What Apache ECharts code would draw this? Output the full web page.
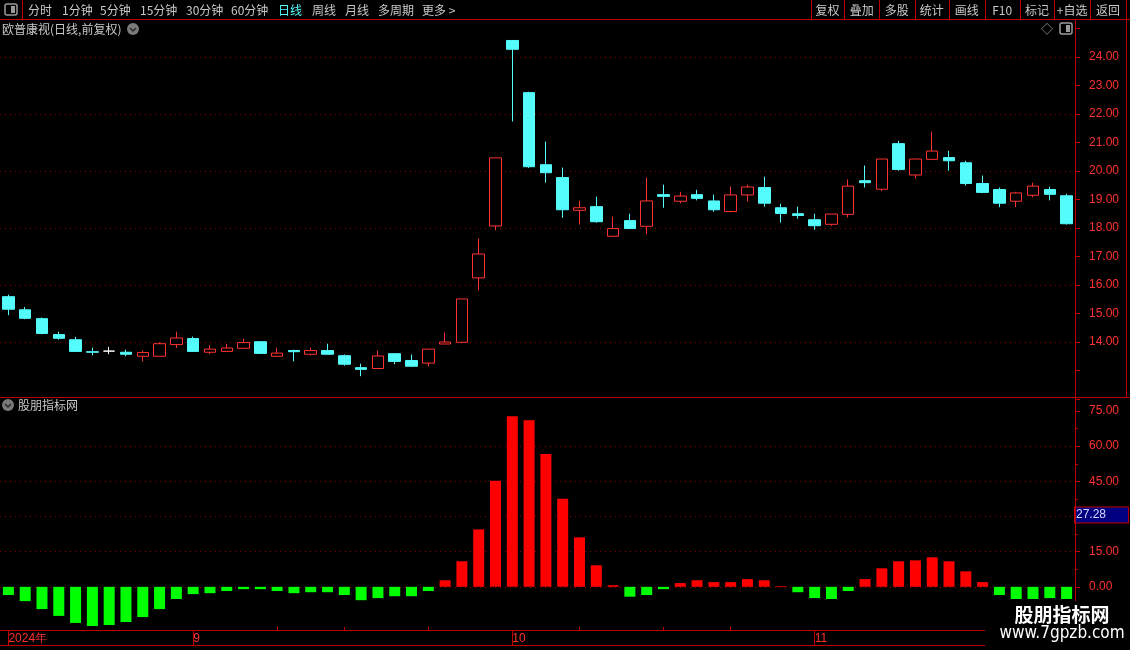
<!DOCTYPE html>
<html>
<head>
<meta charset="utf-8">
<title>欧普康视</title>
<script src="https://cdn.jsdelivr.net/npm/echarts@6/dist/echarts.min.js"></script>
<style>
  html, body { margin: 0; padding: 0; background: #000; }
  #chart { width: 1130px; height: 650px; }
</style>
</head>
<body>
<div id="chart"></div>
<script>
// 交易日 2024-08-16 ~ 2024-11-22
const dates = [
  '2024-08-16', '2024-08-19', '2024-08-20', '2024-08-21', '2024-08-22', '2024-08-23', '2024-08-26', '2024-08-27', '2024-08-28', '2024-08-29',
  '2024-08-30', '2024-09-02', '2024-09-03', '2024-09-04', '2024-09-05', '2024-09-06', '2024-09-09', '2024-09-10', '2024-09-11', '2024-09-12',
  '2024-09-13', '2024-09-18', '2024-09-19', '2024-09-20', '2024-09-23', '2024-09-24', '2024-09-25', '2024-09-26', '2024-09-27', '2024-09-30',
  '2024-10-08', '2024-10-09', '2024-10-10', '2024-10-11', '2024-10-14', '2024-10-15', '2024-10-16', '2024-10-17', '2024-10-18', '2024-10-21',
  '2024-10-22', '2024-10-23', '2024-10-24', '2024-10-25', '2024-10-28', '2024-10-29', '2024-10-30', '2024-10-31', '2024-11-01', '2024-11-04',
  '2024-11-05', '2024-11-06', '2024-11-07', '2024-11-08', '2024-11-11', '2024-11-12', '2024-11-13', '2024-11-14', '2024-11-15', '2024-11-18',
  '2024-11-19', '2024-11-20', '2024-11-21', '2024-11-22'
]
const opens = [
  15.59, 15.13, 14.82, 14.26, 14.08, 13.66, 13.68, 13.64, 13.50, 13.50,
  13.91, 14.12, 13.64, 13.67, 13.78, 14.01, 13.50, 13.70, 13.57, 13.70,
  13.52, 13.10, 13.07, 13.59, 13.35, 13.26, 13.93, 13.99, 16.25, 18.07,
  24.58, 22.75, 20.22, 19.77, 18.62, 18.75, 17.71, 18.26, 18.06, 19.17,
  18.94, 19.17, 18.95, 18.58, 19.16, 19.42, 18.71, 18.50, 18.29, 18.13,
  18.48, 19.66, 19.36, 20.96, 19.86, 20.41, 20.47, 20.29, 19.56, 19.35,
  18.94, 19.15, 19.35, 19.13
]
const closes = [
  15.15, 14.83, 14.30, 14.13, 13.67, 13.64, 13.68, 13.57, 13.63, 13.94,
  14.14, 13.67, 13.75, 13.79, 13.98, 13.60, 13.61, 13.66, 13.70, 13.57,
  13.22, 13.04, 13.51, 13.32, 13.15, 13.75, 14.00, 15.51, 17.09, 20.46,
  24.27, 20.15, 19.94, 18.64, 18.71, 18.22, 17.98, 17.98, 18.95, 19.11,
  19.12, 19.04, 18.64, 19.16, 19.44, 18.87, 18.51, 18.44, 18.08, 18.49,
  19.47, 19.59, 20.42, 20.05, 20.42, 20.70, 20.36, 19.56, 19.25, 18.87,
  19.23, 19.47, 19.18, 18.15
]
const lows = [
  14.94, 14.80, 14.27, 14.08, 13.67, 13.53, 13.57, 13.50, 13.32, 13.50,
  13.79, 13.67, 13.57, 13.67, 13.78, 13.60, 13.50, 13.32, 13.53, 13.56,
  13.17, 12.80, 13.07, 13.22, 13.12, 13.15, 13.93, 13.96, 15.81, 17.92,
  21.74, 20.11, 19.59, 18.36, 18.12, 18.19, 17.71, 17.98, 17.78, 18.71,
  18.87, 18.97, 18.57, 18.55, 18.93, 18.75, 18.19, 18.33, 17.94, 18.08,
  18.37, 19.42, 19.29, 20.01, 19.74, 20.41, 20.01, 19.49, 19.22, 18.73,
  18.73, 19.08, 18.97, 18.12
]
const highs = [
  15.66, 15.23, 14.86, 14.36, 14.18, 13.80, 13.83, 13.73, 13.70, 13.99,
  14.36, 14.19, 13.89, 13.93, 14.11, 14.01, 13.80, 13.73, 13.80, 13.94,
  13.56, 13.24, 13.70, 13.59, 13.56, 13.75, 14.33, 15.51, 17.63, 20.46,
  24.58, 22.78, 21.03, 20.12, 18.96, 19.10, 18.40, 18.50, 19.77, 19.52,
  19.27, 19.34, 19.17, 19.45, 19.52, 19.80, 18.85, 18.75, 18.50, 18.49,
  19.70, 20.19, 20.42, 21.06, 20.42, 21.38, 20.71, 20.36, 19.84, 19.42,
  19.27, 19.59, 19.45, 19.20
]
// 股朋指标网 指标值
const indicator = [
  -3.5, -6.1, -9.5, -12.4, -15.4, -16.7, -16.3, -15.0, -12.9, -9.5,
  -5.2, -3.1, -2.7, -1.8, -1.0, -1.0, -1.8, -2.7, -2.3, -2.3,
  -3.5, -5.7, -4.8, -4.0, -4.0, -1.8, 2.8, 10.9, 24.5, 45.3,
  72.8, 71.1, 56.7, 37.6, 21.1, 9.2, 0.7, -4.2, -3.5, -1.0,
  1.6, 2.8, 2.0, 2.0, 3.3, 2.8, 0.3, -2.3, -4.8, -5.2,
  -1.8, 3.3, 7.9, 10.9, 11.3, 12.6, 10.9, 6.6, 2.0, -3.5,
  -5.2, -5.2, -4.8, -5.2
]
const cursorValue = 27.28
const priceTicks = [14, 15, 16, 17, 18, 19, 20, 21, 22, 23, 24]
const indTicks = [0, 15, 45, 60, 75]
const monthLabelIdx = [0, 11, 30, 48]
const weekTickIdx = [16, 20, 25, 34, 39, 43]

const periods = ['分时', '1分钟', '5分钟', '15分钟', '30分钟', '60分钟', '日线', '周线', '月线', '多周期', '更多 >']
const periodX = [28, 62, 100, 140, 186, 231, 278, 312, 345, 378, 422]
const buttons = ['复权', '叠加', '多股', '统计', '画线', 'F10', '标记', '+自选', '返回']
const buttonSep = [810.8, 844.3, 879.2, 914.5, 949.1, 984.5, 1019.8, 1054.4, 1089.7, 1126.4]

const RED = '#ff3232'
const CYAN = '#54fcfc'
const FRAME = '#c00000'
const DOT = '#900000'
const TXT = '#c8c8c8'
const FONT = '"Noto Sans CJK SC", "Liberation Sans", sans-serif'

const candleData = opens.map((o, i) => [o, closes[i], lows[i], highs[i]])

const chart = echarts.init(document.getElementById('chart'), null, { renderer: 'canvas' })

// 分割线颜色：只在指定刻度显示
function priceLineColors() {
  const res = []
  for (let v = 12; v <= 25; v++) res.push(v >= 14 && v <= 24 && v % 2 === 0 ? DOT : 'transparent')
  return res
}

function hline(x1, x2, y, color) {
  return { type: 'line', silent: true, z: 50, shape: { x1, y1: y, x2, y2: y }, style: { stroke: color || FRAME, lineWidth: 1 } }
}
function vline(x, y1, y2, color) {
  return { type: 'line', silent: true, z: 50, shape: { x1: x, y1, x2: x, y2 }, style: { stroke: color || FRAME, lineWidth: 1 } }
}
function text(str, x, y, color, size, align, weight, family, z) {
  return {
    type: 'text', silent: true, z: z || 60, x, y,
    style: { text: str, fill: color || TXT, font: (weight || 'normal') + ' ' + (size || 12) + 'px ' + (family || FONT), align: align || 'left', verticalAlign: 'middle' }
  }
}
function chevronIcon(cx, cy) {
  return [
    { type: 'circle', silent: true, z: 60, shape: { cx, cy, r: 6 }, style: { fill: '#7a7a7a' } },
    { type: 'polyline', silent: true, z: 61, shape: { points: [[cx - 3, cy - 1], [cx, cy + 2], [cx + 3, cy - 1]] }, style: { stroke: '#2a2a2a', lineWidth: 1.5, fill: null } }
  ]
}
function panelIcon(x, y) {
  return [
    { type: 'rect', silent: true, z: 60, shape: { x, y, width: 12, height: 11, r: 2 }, style: { fill: null, stroke: '#9a9a9a', lineWidth: 1.5 } },
    { type: 'rect', silent: true, z: 60, shape: { x: x + 6, y: y + 2, width: 4, height: 7 }, style: { fill: '#9a9a9a' } }
  ]
}

const graphics = []
// 工具栏
graphics.push(hline(0, 1130, 19.5))
graphics.push(vline(22.5, 0, 19))
buttonSep.forEach(x => graphics.push(vline(Math.round(x) + 0.5, 0, 19)))
graphics.push(...panelIcon(5, 4))
periods.forEach((p, i) => graphics.push(text(p, periodX[i], 10, p === '日线' ? CYAN : TXT, 12)))
buttons.forEach((b, i) => graphics.push(text(b, (buttonSep[i] + buttonSep[i + 1]) / 2, 10, TXT, 12, 'center')))
// 标题行
graphics.push(text('欧普康视(日线,前复权)', 2, 29, TXT, 12))
graphics.push(...chevronIcon(133, 29))
graphics.push(text('◇', 1047, 29, '#9a9a9a', 12, 'center'))
graphics.push(...panelIcon(1060, 23))
// 边框
graphics.push(vline(1075.5, 19, 650))
graphics.push(vline(1126.5, 19, 397))
graphics.push(hline(0, 1130, 397.5))
graphics.push(hline(0, 985, 645.5))
// 副图标题
graphics.push(...chevronIcon(8, 405))
graphics.push(text('股朋指标网', 18, 405, TXT, 12))
// 水印
graphics.push({ type: 'rect', silent: true, z: 70, shape: { x: 985, y: 601, width: 145, height: 49 }, style: { fill: '#000' } })
graphics.push(text('股朋指标网', 1062, 615, '#ffffff', 19, 'center', 'bold', null, 80))
graphics.push(text('www.7gpzb.com', 1062, 634, '#ffffff', 17, 'center', 'normal', '"Liberation Sans Narrow", "DejaVu Sans Condensed", sans-serif', 80))

chart.setOption({
  backgroundColor: '#000',
  animation: false,
  textStyle: { fontFamily: FONT },
  grid: [
    { left: -1, width: 1076, top: 28.5, height: 370.5 },
    { left: -1, width: 1076, top: 411, height: 211 },
    { left: -1, width: 1076, top: 615, height: 15 },
    { left: -1, width: 1076, top: 615, height: 15 }
  ],
  xAxis: [
    { type: 'category', gridIndex: 0, data: dates, show: false },
    { type: 'category', gridIndex: 1, data: dates, show: false },
    {
      type: 'category',
      gridIndex: 2,
      data: dates,
      axisLine: { show: true, lineStyle: { color: FRAME } },
      axisTick: {
        show: true,
        alignWithLabel: true,
        interval: (idx) => monthLabelIdx.includes(idx),
        length: 15,
        lineStyle: { color: FRAME }
      },
      axisLabel: {
        interval: (idx) => monthLabelIdx.includes(idx),
        align: 'left',
        margin: 3,
        color: RED,
        fontSize: 12,
        fontFamily: '"Liberation Sans Narrow", "Liberation Sans", sans-serif',
        formatter: (val, idx) => idx === 0 ? val.slice(0, 4) + '年' : String(Number(val.slice(5, 7)))
      }
    },
    {
      type: 'category',
      gridIndex: 3,
      data: dates,
      axisLine: { show: false },
      axisTick: {
        show: true,
        alignWithLabel: true,
        inside: true,
        interval: (idx) => weekTickIdx.includes(idx),
        length: 3,
        lineStyle: { color: FRAME }
      },
      axisLabel: { show: false }
    }
  ],
  yAxis: [
    {
      type: 'value',
      gridIndex: 0,
      position: 'right',
      min: 12,
      max: 25,
      interval: 1,
      axisLine: { show: false },
      axisTick: { show: true, length: 5, lineStyle: { color: FRAME } },
      axisLabel: {
        margin: 14,
        color: RED,
        fontSize: 12,
        fontFamily: '"Liberation Sans", sans-serif',
        formatter: v => priceTicks.includes(v) ? v.toFixed(2) : ''
      },
      splitLine: { show: true, lineStyle: { color: priceLineColors(), type: [1, 4], width: 1 } }
    },
    {
      type: 'value',
      gridIndex: 1,
      position: 'right',
      min: -15,
      max: 75,
      interval: 15,
      axisLine: { show: false },
      axisTick: { show: true, length: 5, lineStyle: { color: FRAME } },
      minorTick: { show: true, splitNumber: 2, length: 3, lineStyle: { color: FRAME } },
      axisLabel: {
        margin: 14,
        color: RED,
        fontSize: 12,
        fontFamily: '"Liberation Sans", sans-serif',
        formatter: v => indTicks.includes(v) ? v.toFixed(2) : ''
      },
      splitLine: {
        show: true,
        lineStyle: { color: ['transparent', DOT, DOT, DOT, DOT, DOT, 'transparent'], type: [1, 4], width: 1 }
      }
    },
    { type: 'value', gridIndex: 2, show: false },
    { type: 'value', gridIndex: 3, show: false }
  ],
  series: [
    {
      name: '欧普康视',
      type: 'candlestick',
      xAxisIndex: 0,
      yAxisIndex: 0,
      barWidth: 12,
      data: candleData,
      itemStyle: {
        color: '#000',
        color0: CYAN,
        borderColor: RED,
        borderColor0: CYAN,
        borderColorDoji: '#ffffff',
        borderWidth: 1
      }
    },
    {
      name: '股朋指标网',
      type: 'bar',
      xAxisIndex: 1,
      yAxisIndex: 1,
      barWidth: 11,
      clip: false,
      data: indicator.map(v => ({
        value: v,
        itemStyle: { color: v >= 0 ? '#ff0000' : '#00ff00' }
      })),
      markLine: {
        silent: true,
        symbol: ['none', 'none'],
        lineStyle: { color: 'transparent', width: 0 },
        label: {
          show: true,
          position: 'end',
          distance: 0,
          offset: [0, -8],
          formatter: () => cursorValue.toFixed(2),
          color: '#d8d8ff',
          fontSize: 12,
          fontFamily: '"Liberation Sans", sans-serif',
          backgroundColor: '#000080',
          borderColor: FRAME,
          borderWidth: 1,
          padding: [2, 22, 1, 1]
        },
        data: [{ yAxis: cursorValue }]
      }
    }
  ],
  graphic: graphics
})
</script>
</body>
</html>
